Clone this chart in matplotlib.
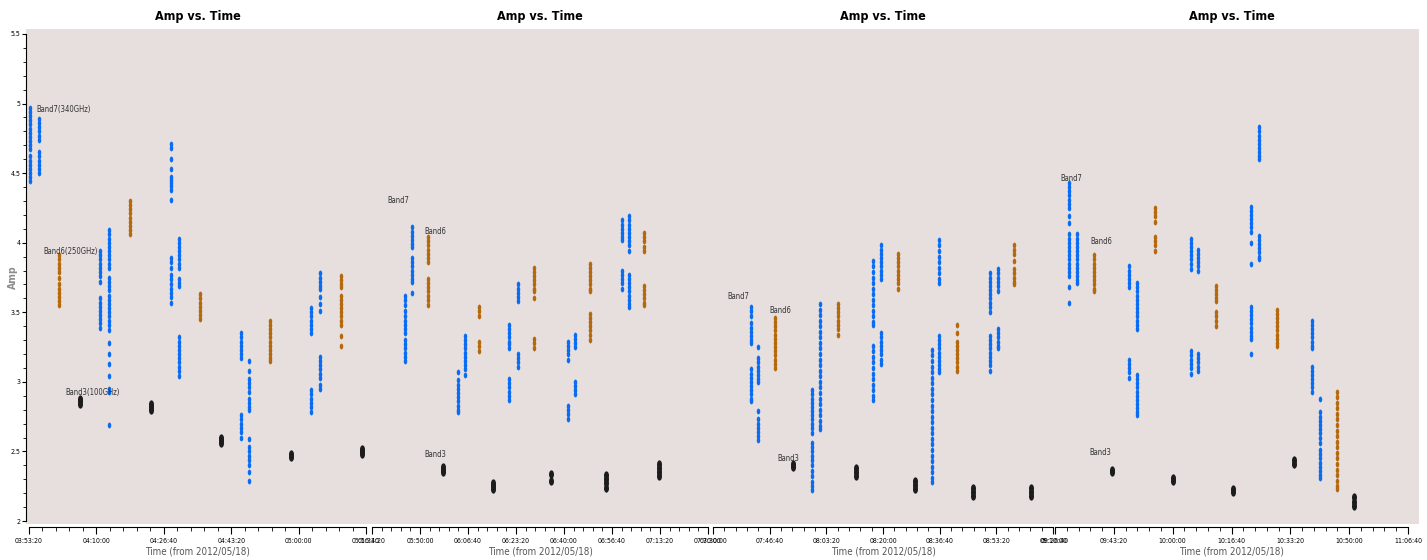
import matplotlib
matplotlib.use('Agg')
import matplotlib.pyplot as plt
from matplotlib.patches import Rectangle
from matplotlib.path import Path
from matplotlib.transforms import Affine2D
from matplotlib.ticker import MultipleLocator, FuncFormatter

plt.rcParams['font.family'] = ['DejaVu Sans']
plt.rcParams['font.stretch'] = 'condensed'

# time axis: seconds since 2012/05/18 00:00 UT
panel_ranges = [(14000, 19000), (20000, 27000), (27000, 33000), (34000, 40000)]

# Band7 (340 GHz) scans: one time per scan, amplitudes of its integrations
band7_times = [14015, 14148, 15054, 15187, 16107, 16226, 17146, 17265, 18185, 18318,
               20687, 20833, 21791, 21937, 22854, 23041, 24083, 24229, 25208, 25354,
               27671, 27794, 28747, 28889, 29824, 29965, 30865, 30989, 31889, 32030,
               34238, 34374, 35258, 35394, 36312, 36431, 37332, 37468, 38369, 38505]
band7_amps = [
    [4.97, 4.94, 4.91, 4.88, 4.85, 4.82, 4.79, 4.76, 4.73, 4.70, 4.67, 4.62, 4.59, 4.56, 4.53, 4.50, 4.47, 4.44],
    [4.89, 4.86, 4.83, 4.80, 4.77, 4.74, 4.65, 4.62, 4.59, 4.56, 4.53, 4.50],
    [3.94, 3.91, 3.88, 3.85, 3.82, 3.79, 3.76, 3.72, 3.60, 3.57, 3.54, 3.51, 3.48, 3.45, 3.42, 3.39],
    [4.09, 4.06, 4.03, 4.00, 3.97, 3.94, 3.91, 3.88, 3.85, 3.82, 3.75, 3.72, 3.69, 3.66, 3.62, 3.59, 3.56,
     3.53, 3.50, 3.47, 3.44, 3.41, 3.37, 3.28, 3.20, 3.13, 3.04, 2.95, 2.93, 2.69],
    [4.71, 4.68, 4.60, 4.53, 4.47, 4.45, 4.43, 4.41, 4.38, 4.31, 3.89, 3.86, 3.82, 3.77, 3.74, 3.70, 3.67,
     3.64, 3.61, 3.57],
    [4.03, 4.00, 3.97, 3.94, 3.91, 3.88, 3.85, 3.82, 3.74, 3.71, 3.69, 3.32, 3.29, 3.26, 3.23, 3.20, 3.17,
     3.14, 3.11, 3.08, 3.04],
    [3.35, 3.32, 3.29, 3.26, 3.23, 3.20, 3.17, 2.76, 2.73, 2.70, 2.67, 2.64, 2.60],
    [3.15, 3.08, 3.02, 2.99, 2.96, 2.93, 2.88, 2.85, 2.82, 2.80, 2.59, 2.53, 2.50, 2.47, 2.44, 2.40, 2.35, 2.29],
    [3.53, 3.50, 3.47, 3.44, 3.41, 3.38, 3.35, 2.94, 2.91, 2.88, 2.85, 2.82, 2.78],
    [3.78, 3.75, 3.72, 3.69, 3.67, 3.61, 3.56, 3.51, 3.18, 3.15, 3.12, 3.09, 3.06, 3.03, 2.98, 2.95],
    [3.62, 3.59, 3.55, 3.51, 3.47, 3.44, 3.41, 3.38, 3.35, 3.30, 3.27, 3.24, 3.21, 3.18, 3.15],
    [4.11, 4.08, 4.05, 4.02, 3.99, 3.97, 3.89, 3.86, 3.83, 3.80, 3.77, 3.74, 3.72, 3.64],
    [3.07, 3.01, 2.98, 2.95, 2.92, 2.89, 2.86, 2.83, 2.80, 2.78],
    [3.33, 3.30, 3.27, 3.24, 3.21, 3.18, 3.15, 3.12, 3.09, 3.05],
    [3.41, 3.38, 3.35, 3.32, 3.29, 3.27, 3.24, 3.02, 2.99, 2.96, 2.93, 2.90, 2.87],
    [3.70, 3.67, 3.64, 3.61, 3.58, 3.20, 3.17, 3.14, 3.11],
    [3.29, 3.26, 3.23, 3.20, 3.16, 2.83, 2.80, 2.77, 2.73],
    [3.34, 3.31, 3.28, 3.25, 3.00, 2.97, 2.94, 2.91],
    [4.16, 4.13, 4.10, 4.07, 4.04, 4.02, 3.80, 3.77, 3.74, 3.71, 3.67],
    [4.19, 4.16, 4.13, 4.10, 4.07, 4.04, 4.01, 3.98, 3.94, 3.77, 3.74, 3.71, 3.68, 3.65, 3.62, 3.59, 3.56, 3.54],
    [3.54, 3.51, 3.47, 3.42, 3.39, 3.36, 3.33, 3.30, 3.28, 3.09, 3.06, 3.03, 3.00, 2.97, 2.94, 2.91, 2.88, 2.86],
    [3.25, 3.17, 3.14, 3.11, 3.08, 3.05, 3.02, 3.00, 2.79, 2.73, 2.70, 2.67, 2.64, 2.61, 2.58],
    [2.94, 2.91, 2.88, 2.85, 2.82, 2.79, 2.76, 2.73, 2.70, 2.67, 2.63, 2.56, 2.53, 2.50, 2.47, 2.44, 2.40,
     2.36, 2.32, 2.28, 2.25, 2.22],
    [3.56, 3.52, 3.48, 3.44, 3.40, 3.36, 3.32, 3.28, 3.24, 3.20, 3.16, 3.12, 3.08, 3.04, 3.00, 2.96, 2.92,
     2.88, 2.84, 2.80, 2.76, 2.72, 2.68, 2.66],
    [3.87, 3.83, 3.79, 3.75, 3.71, 3.67, 3.63, 3.59, 3.55, 3.51, 3.47, 3.43, 3.41, 3.26, 3.22, 3.18, 3.14,
     3.10, 3.06, 3.02, 2.98, 2.94, 2.90, 2.87],
    [3.98, 3.95, 3.92, 3.89, 3.86, 3.83, 3.80, 3.77, 3.74, 3.35, 3.32, 3.29, 3.26, 3.23, 3.20, 3.16, 3.13],
    [3.23, 3.19, 3.15, 3.11, 3.07, 3.03, 2.99, 2.95, 2.91, 2.87, 2.83, 2.79, 2.75, 2.71, 2.67, 2.63, 2.59,
     2.55, 2.51, 2.47, 2.43, 2.39, 2.35, 2.31, 2.28],
    [4.02, 3.98, 3.94, 3.90, 3.86, 3.82, 3.78, 3.74, 3.71, 3.33, 3.30, 3.27, 3.24, 3.21, 3.18, 3.15, 3.12,
     3.09, 3.07],
    [3.78, 3.75, 3.72, 3.69, 3.66, 3.63, 3.60, 3.57, 3.54, 3.50, 3.33, 3.30, 3.27, 3.24, 3.21, 3.18, 3.15,
     3.12, 3.08],
    [3.81, 3.78, 3.75, 3.72, 3.69, 3.65, 3.38, 3.35, 3.32, 3.29, 3.26, 3.24],
    [4.43, 4.40, 4.37, 4.34, 4.31, 4.28, 4.25, 4.19, 4.14, 4.06, 4.03, 4.00, 3.97, 3.94, 3.91, 3.88, 3.85,
     3.82, 3.79, 3.76, 3.68, 3.57],
    [4.06, 4.03, 4.00, 3.97, 3.94, 3.91, 3.88, 3.85, 3.82, 3.79, 3.76, 3.73, 3.71],
    [3.83, 3.80, 3.77, 3.74, 3.71, 3.68, 3.16, 3.13, 3.10, 3.07, 3.03],
    [3.71, 3.68, 3.65, 3.62, 3.59, 3.56, 3.53, 3.50, 3.47, 3.44, 3.41, 3.38, 3.05, 3.02, 2.99, 2.96, 2.93,
     2.90, 2.87, 2.84, 2.81, 2.78, 2.76],
    [4.03, 4.00, 3.97, 3.94, 3.91, 3.88, 3.85, 3.81, 3.22, 3.19, 3.16, 3.13, 3.10, 3.06],
    [3.95, 3.92, 3.89, 3.86, 3.83, 3.80, 3.20, 3.17, 3.14, 3.11, 3.08],
    [4.26, 4.23, 4.20, 4.17, 4.14, 4.11, 4.08, 4.00, 3.85, 3.54, 3.51, 3.48, 3.45, 3.42, 3.39, 3.36, 3.33,
     3.31, 3.20],
    [4.83, 4.80, 4.77, 4.74, 4.71, 4.68, 4.65, 4.62, 4.60, 4.05, 4.02, 3.99, 3.96, 3.93, 3.90, 3.88],
    [3.44, 3.41, 3.38, 3.35, 3.32, 3.29, 3.26, 3.24, 3.11, 3.08, 3.05, 3.02, 2.99, 2.96, 2.93],
    [2.88, 2.78, 2.75, 2.72, 2.69, 2.66, 2.63, 2.60, 2.56, 2.51, 2.48, 2.45, 2.42, 2.39, 2.36, 2.33, 2.31],
]

# Band6 (250 GHz) scans
band6_times = [14445, 15499, 16538, 17576, 18630,
               21166, 22229, 23375, 24541, 25666,
               28094, 29206, 30265, 31307, 32313,
               34663, 35700, 36737, 37774, 38794]
band6_amps = [
    [3.91, 3.88, 3.85, 3.82, 3.79, 3.75, 3.70, 3.67, 3.64, 3.61, 3.58, 3.55],
    [4.30, 4.27, 4.24, 4.21, 4.18, 4.15, 4.12, 4.09, 4.06],
    [3.63, 3.60, 3.57, 3.54, 3.51, 3.48, 3.45],
    [3.44, 3.41, 3.38, 3.35, 3.32, 3.29, 3.26, 3.23, 3.20, 3.17, 3.15],
    [3.76, 3.73, 3.70, 3.68, 3.62, 3.59, 3.56, 3.53, 3.50, 3.47, 3.44, 3.41, 3.33, 3.26],
    [4.04, 4.01, 3.98, 3.95, 3.92, 3.89, 3.86, 3.74, 3.71, 3.68, 3.65, 3.62, 3.59, 3.55],
    [3.54, 3.51, 3.47, 3.29, 3.26, 3.22],
    [3.82, 3.79, 3.76, 3.73, 3.70, 3.67, 3.65, 3.60, 3.31, 3.28, 3.24],
    [3.85, 3.82, 3.79, 3.76, 3.73, 3.70, 3.67, 3.65, 3.49, 3.46, 3.43, 3.40, 3.37, 3.34, 3.30],
    [4.07, 4.04, 4.01, 3.97, 3.94, 3.69, 3.66, 3.63, 3.60, 3.57, 3.55],
    [3.46, 3.43, 3.40, 3.37, 3.34, 3.31, 3.28, 3.25, 3.22, 3.19, 3.16, 3.13, 3.10],
    [3.56, 3.53, 3.50, 3.47, 3.44, 3.41, 3.38, 3.34],
    [3.92, 3.89, 3.86, 3.83, 3.80, 3.77, 3.74, 3.71, 3.67],
    [3.41, 3.35, 3.29, 3.26, 3.23, 3.20, 3.17, 3.14, 3.11, 3.08],
    [3.98, 3.95, 3.92, 3.87, 3.81, 3.78, 3.75, 3.72, 3.70],
    [3.91, 3.88, 3.85, 3.82, 3.79, 3.76, 3.73, 3.70, 3.67, 3.65],
    [4.25, 4.22, 4.19, 4.15, 4.04, 4.01, 3.98, 3.94],
    [3.69, 3.66, 3.63, 3.60, 3.58, 3.50, 3.47, 3.44, 3.40],
    [3.52, 3.49, 3.46, 3.43, 3.40, 3.37, 3.34, 3.31, 3.28, 3.26],
    [2.93, 2.89, 2.85, 2.81, 2.77, 2.73, 2.69, 2.65, 2.61, 2.57, 2.53, 2.49, 2.45, 2.41, 2.37, 2.33, 2.29,
     2.25, 2.23],
]

# Band3 (100 GHz) scans
band3_times = [14757, 15810, 16849, 17888, 18942,
               21479, 22520, 23729, 24874, 25978,
               28412, 29524, 30565, 31589, 32613,
               34969, 36006, 37026, 38063, 39083]
band3_amps = [
    [2.88, 2.86, 2.84], [2.84, 2.82, 2.80], [2.60, 2.58, 2.56],
    [2.48, 2.46], [2.52, 2.50, 2.48],
    [2.39, 2.37, 2.35], [2.27, 2.25, 2.23], [2.34, 2.29],
    [2.33, 2.30, 2.27, 2.24], [2.41, 2.38, 2.35, 2.32],
    [2.41, 2.39], [2.38, 2.35, 2.32], [2.29, 2.26, 2.23],
    [2.24, 2.21, 2.18], [2.24, 2.21, 2.18],
    [2.37, 2.35], [2.31, 2.29], [2.23, 2.21],
    [2.44, 2.41], [2.17, 2.14, 2.11],
]

# band labels per panel: (text, time, amp)
band_labels = [
    [('Band7(340GHz)', 14104, 4.96), ('Band6(250GHz)', 14208, 3.94), ('Band3(100GHz)', 14534, 2.92)],
    [('Band7', 20312, 4.30), ('Band6', 21083, 4.08), ('Band3', 21083, 2.48)],
    [('Band7', 27247, 3.61), ('Band6', 27988, 3.51), ('Band3', 28130, 2.45)],
    [('Band7', 34085, 4.46), ('Band6', 34595, 4.01), ('Band3', 34578, 2.49)],
]

BLUE = '#0a6cf2'
ORANGE = '#b5690c'
BLACK = '#1c1c1c'
BG = '#e6dfde'

# tall thin dot, like the squeezed markers of the original plot
dot = Path.unit_circle().transformed(Affine2D().scale(0.6, 1.0))


def hms(v, pos=None):
    v = int(round(v))
    return '%02d:%02d:%02d' % (v // 3600, v % 3600 // 60, v % 60)


def flatten(times, amps, t0, t1):
    xs, ys = [], []
    for t, a in zip(times, amps):
        if t0 <= t <= t1:
            xs += [t] * len(a)
            ys += a
    return xs, ys


W, H = 1427, 560
fig = plt.figure(figsize=(W / 100, H / 100), dpi=100)
fig.patches.append(Rectangle((26 / W, 1 - 524 / H), (1419 - 26) / W, (524 - 29) / H,
                             transform=fig.transFigure, facecolor=BG, edgecolor='none', zorder=-5))

panel_px = [(29, 366), (372, 708), (713, 1053), (1055, 1408)]
for i, ((t0, t1), (p0, p1)) in enumerate(zip(panel_ranges, panel_px)):
    ax = fig.add_axes([p0 / W, 39 / H, (p1 - p0) / W, 487 / H])
    ax.set_facecolor('none')
    ax.set_xlim(t0, t1)
    ax.set_ylim(2, 5.5)

    for times, amps, col, ms in [(band7_times, band7_amps, BLUE, 4.2),
                                 (band6_times, band6_amps, ORANGE, 4.2),
                                 (band3_times, band3_amps, BLACK, 6.0)]:
        xs, ys = flatten(times, amps, t0, t1)
        ax.plot(xs, ys, linestyle='none', marker=dot, markersize=ms,
                color=col, markeredgewidth=0, clip_on=False)

    for txt, tx, ty in band_labels[i]:
        ax.text(tx, ty, txt, fontsize=5.5, color='#333333', ha='left', va='center')

    ax.set_title('Amp vs. Time', fontsize=9, fontweight='bold', pad=10)
    ax.set_xlabel('Time (from 2012/05/18)', fontsize=7, color='#555555', labelpad=2)

    ax.xaxis.set_major_locator(MultipleLocator(1000))
    ax.xaxis.set_minor_locator(MultipleLocator(200))
    ax.xaxis.set_major_formatter(FuncFormatter(hms))
    ax.tick_params(axis='x', which='major', length=5, labelsize=5, pad=3)
    ax.tick_params(axis='x', which='minor', length=3)

    for s in ['top', 'right']:
        ax.spines[s].set_visible(False)
    ax.spines['bottom'].set_position(('outward', 4))

    if i == 0:
        ax.spines['left'].set_position(('outward', 2))
        ax.yaxis.set_major_locator(MultipleLocator(0.5))
        ax.yaxis.set_minor_locator(MultipleLocator(0.1))
        ax.yaxis.set_major_formatter(FuncFormatter(lambda v, p: ('%g' % v)))
        ax.tick_params(axis='y', which='major', length=3, labelsize=5, pad=1)
        ax.tick_params(axis='y', which='minor', length=2)
        ax.set_ylabel('Amp', fontsize=7.5, color='#8c8c8c', fontweight='bold')
        ax.yaxis.set_label_coords(-0.033, 0.5)
    else:
        ax.spines['left'].set_visible(False)
        ax.tick_params(axis='y', which='both', left=False, labelleft=False)

fig.savefig('out.png', dpi=100)
